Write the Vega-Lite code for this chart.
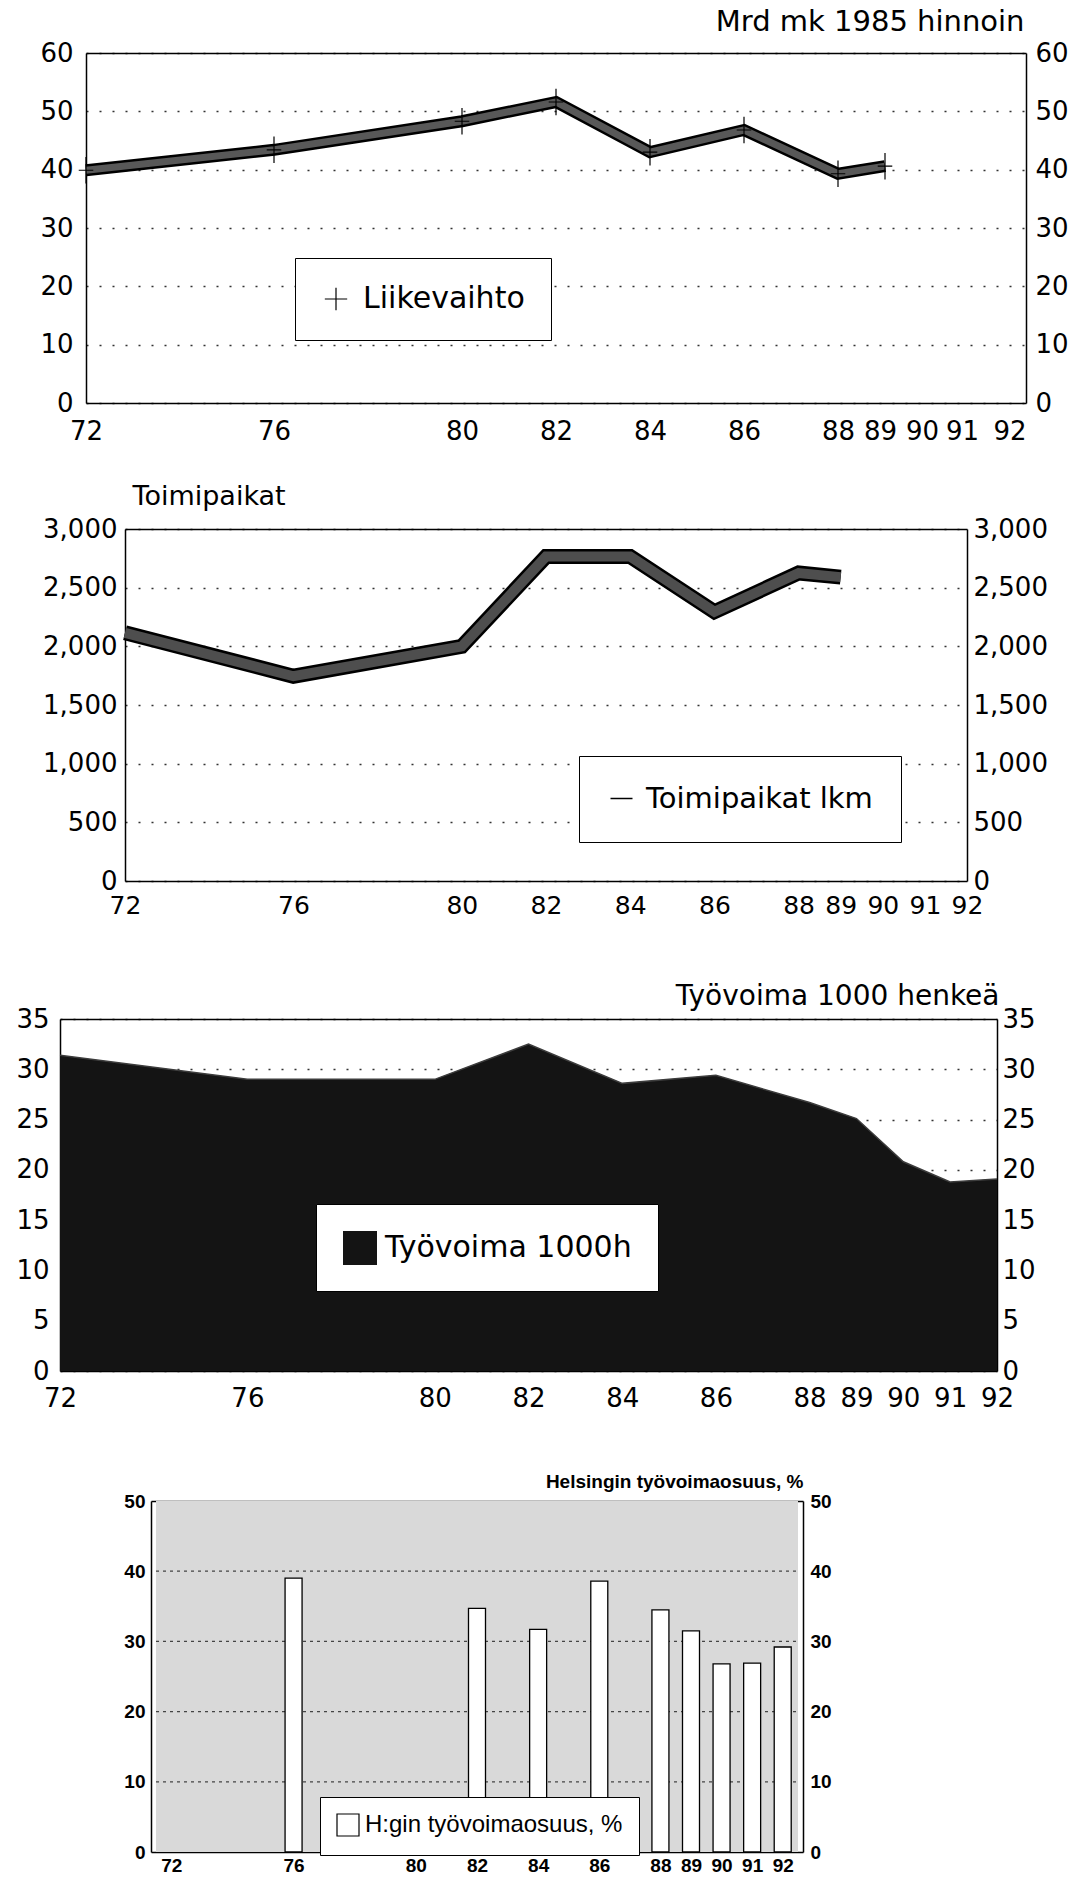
{
  "$schema": "https://vega.github.io/schema/vega-lite/v6.json",
  "padding": 0,
  "spacing": 0,
  "background": "#ffffff",
  "config": {
    "view": {"stroke": null},
    "font": "DejaVu Sans",
    "axis": {
      "labelColor": "#000",
      "domainColor": "#000",
      "domainWidth": 1.5,
      "ticks": false,
      "grid": false,
      "labelOverlap": false,
      "labelFlush": false,
      "labelFont": "DejaVu Sans",
      "labelFontSize": 26,
      "titleFont": "DejaVu Sans",
      "titleFontWeight": "normal",
      "titleColor": "#000",
      "gridColor": "#333",
      "gridWidth": 1.5
    },
    "legend": {"titleColor": "#000", "labelColor": "#000"}
  },
  "resolve": {"scale": {"color": "independent"}, "legend": {"color": "independent"}},
  "datasets": {
    "liike": [
      {"year": 72, "value": 39.9},
      {"year": 76, "value": 43.4},
      {"year": 80, "value": 48.3},
      {"year": 82, "value": 51.6},
      {"year": 84, "value": 43.0},
      {"year": 86, "value": 46.8},
      {"year": 88, "value": 39.3},
      {"year": 89, "value": 40.6}
    ],
    "toimi": [
      {"year": 72, "value": 2115},
      {"year": 76, "value": 1745},
      {"year": 80, "value": 2000},
      {"year": 82, "value": 2765},
      {"year": 84, "value": 2765},
      {"year": 86, "value": 2295},
      {"year": 88, "value": 2625},
      {"year": 89, "value": 2590}
    ],
    "tyovoima": [
      {"year": 72, "value": 31.4},
      {"year": 76, "value": 29.0},
      {"year": 80, "value": 29.0},
      {"year": 82, "value": 32.5},
      {"year": 84, "value": 28.6},
      {"year": 86, "value": 29.4},
      {"year": 88, "value": 26.7},
      {"year": 89, "value": 25.1},
      {"year": 90, "value": 20.8},
      {"year": 91, "value": 18.8},
      {"year": 92, "value": 19.1}
    ],
    "osuus": [
      {"year": 76, "value": 39.0},
      {"year": 82, "value": 34.7},
      {"year": 84, "value": 31.7},
      {"year": 86, "value": 38.6},
      {"year": 88, "value": 34.5},
      {"year": 89, "value": 31.5},
      {"year": 90, "value": 26.8},
      {"year": 91, "value": 26.9},
      {"year": 92, "value": 29.2}
    ],
    "grid4": [{"g": 10}, {"g": 20}, {"g": 30}, {"g": 40}]
  },
  "vconcat": [
    {
      "width": 1026,
      "height": 470,
      "data": {"name": "liike"},
      "layer": [
        {
          "mark": {"type": "line", "color": "#000", "strokeWidth": 12, "strokeJoin": "miter", "strokeCap": "butt"},
          "encoding": {
            "x": {"field": "year", "type": "quantitative",
              "scale": {"domain": [72, 92], "range": [86, 1026], "nice": false, "zero": false},
              "axis": {"orient": "bottom", "offset": -67, "title": null, "values": [72, 76, 80, 82, 84, 86, 88, 89, 90, 91, 92], "format": "d", "labelPadding": 15,
                "labelAlign": {"condition": {"test": "datum.value == 92", "value": "right"}, "value": "center"},
                "labelOffset": {"condition": [{"test": "datum.value == 89", "value": -5}, {"test": "datum.value == 90", "value": -10}, {"test": "datum.value == 91", "value": -17}], "value": 0}}},
            "y": {"field": "value", "type": "quantitative",
              "scale": {"domain": [0, 60], "range": [403, 53], "nice": false, "zero": false},
              "axis": {"orient": "left", "offset": -86, "title": null, "values": [0, 10, 20, 30, 40, 50, 60], "labelPadding": 13, "grid": true, "gridDash": [2, 11]}}
          }
        },
        {
          "mark": {"type": "line", "color": "#585858", "strokeWidth": 7, "strokeJoin": "miter", "strokeCap": "butt"},
          "encoding": {
            "x": {"field": "year", "type": "quantitative",
              "axis": {"orient": "top", "offset": -53, "labels": false, "title": "Mrd mk 1985 hinnoin", "titleFontSize": 29, "titleX": 1024, "titleY": -23, "titleAlign": "right", "titleBaseline": "alphabetic", "titleAngle": 0}},
            "y": {"field": "value", "type": "quantitative",
              "axis": {"orient": "right", "offset": 0, "title": null, "values": [0, 10, 20, 30, 40, 50, 60], "labelPadding": 9}}
          }
        },
        {
          "mark": {"type": "point", "shape": "M0,-1V1M-0.55,0H0.55", "size": 700, "strokeWidth": 1.2, "filled": false, "opacity": 1},
          "encoding": {
            "x": {"field": "year", "type": "quantitative", "axis": null},
            "y": {"field": "value", "type": "quantitative", "axis": null},
            "color": {"datum": "Liikevaihto", "scale": {"range": ["#000"]},
              "legend": {"orient": "none", "legendX": 295, "legendY": 258, "title": null, "padding": 26, "strokeColor": "#000", "fillColor": "#fff", "labelFont": "DejaVu Sans", "labelFontSize": 30, "labelOffset": 12, "labelLimit": 0, "symbolType": "M0,-1V1M-1,0H1", "symbolSize": 500, "symbolStrokeWidth": 1.2, "symbolStrokeColor": "#000"}}
          }
        }
      ],
      "resolve": {"axis": {"x": "independent", "y": "independent"}}
    },
    {
      "width": 967,
      "height": 490,
      "data": {"name": "toimi"},
      "layer": [
        {
          "mark": {"type": "line", "strokeJoin": "miter", "strokeCap": "butt"},
          "encoding": {
            "x": {"field": "year", "type": "quantitative",
              "scale": {"domain": [72, 92], "range": [125, 967], "nice": false, "zero": false},
              "axis": {"orient": "bottom", "offset": -79, "title": null, "values": [72, 76, 80, 82, 84, 86, 88, 89, 90, 91, 92], "format": "d", "labelPadding": 12, "labelFontSize": 25}},
            "y": {"field": "value", "type": "quantitative",
              "scale": {"domain": [0, 3000], "range": [411, 59], "nice": false, "zero": false},
              "axis": {"orient": "left", "offset": -125, "title": null, "values": [0, 500, 1000, 1500, 2000, 2500, 3000], "format": ",d", "labelPadding": 8, "grid": true, "gridDash": [2, 11]}},
            "strokeWidth": {"value": 15},
            "color": {"datum": "Toimipaikat lkm", "scale": {"range": ["#000"]},
              "legend": {"orient": "none", "legendX": 579, "legendY": 286, "title": null, "padding": 28, "strokeColor": "#000", "fillColor": "#fff", "labelFont": "DejaVu Sans", "labelFontSize": 29, "labelOffset": 10, "labelLimit": 0, "symbolType": "stroke", "symbolSize": 484, "symbolStrokeWidth": 1.5, "symbolStrokeColor": "#000"}}
          }
        },
        {
          "mark": {"type": "line", "color": "#4e4e4e", "strokeWidth": 10, "strokeJoin": "miter", "strokeCap": "butt"},
          "encoding": {
            "x": {"field": "year", "type": "quantitative",
              "axis": {"orient": "top", "offset": -59, "labels": false, "title": "Toimipaikat", "titleFontSize": 27, "titleX": 132, "titleY": -25, "titleAlign": "left", "titleBaseline": "alphabetic", "titleAngle": 0}},
            "y": {"field": "value", "type": "quantitative",
              "axis": {"orient": "right", "offset": 0, "title": null, "values": [0, 500, 1000, 1500, 2000, 2500, 3000], "format": ",d", "labelPadding": 6}}
          }
        }
      ],
      "resolve": {"axis": {"x": "independent", "y": "independent"}}
    },
    {
      "width": 997,
      "height": 480,
      "data": {"name": "tyovoima"},
      "layer": [
        {
          "mark": {"type": "area"},
          "encoding": {
            "x": {"field": "year", "type": "quantitative",
              "scale": {"domain": [72, 92], "range": [60, 997], "nice": false, "zero": false},
              "axis": {"orient": "bottom", "offset": -69, "title": null, "values": [72, 76, 80, 82, 84, 86, 88, 89, 90, 91, 92], "format": "d", "labelPadding": 14}},
            "y": {"field": "value", "type": "quantitative",
              "scale": {"domain": [0, 35], "range": [411, 59], "nice": false, "zero": true},
              "axis": {"orient": "left", "offset": -60, "title": null, "values": [0, 5, 10, 15, 20, 25, 30, 35], "labelPadding": 11, "grid": true, "gridDash": [2, 11]}},
            "color": {"datum": "Työvoima 1000h", "scale": {"range": ["#141414"]},
              "legend": {"orient": "none", "legendX": 316, "legendY": 244, "title": null, "padding": 26, "strokeColor": "#000", "fillColor": "#fff", "labelFont": "DejaVu Sans", "labelFontSize": 30, "labelOffset": 7, "labelLimit": 0, "symbolType": "square", "symbolSize": 1156}}
          }
        },
        {
          "mark": {"type": "line", "color": "#3c3c3c", "strokeWidth": 1.5},
          "encoding": {
            "x": {"field": "year", "type": "quantitative",
              "axis": {"orient": "top", "offset": -59, "labels": false, "title": "Työvoima 1000 henkeä", "titleFontSize": 28, "titleX": 999, "titleY": -15, "titleAlign": "right", "titleBaseline": "alphabetic", "titleAngle": 0}},
            "y": {"field": "value", "type": "quantitative",
              "axis": {"orient": "right", "offset": 0, "title": null, "values": [0, 5, 10, 15, 20, 25, 30, 35], "labelPadding": 5}}
          }
        }
      ],
      "resolve": {"axis": {"x": "independent", "y": "independent"}}
    },
    {
      "width": 803,
      "height": 446,
      "data": {"name": "osuus"},
      "layer": [
        {
          "mark": {"type": "rect", "color": "#d9d9d9"},
          "encoding": {
            "x": {"datum": 71.5, "type": "quantitative",
              "scale": {"domain": [71.5, 92.5], "range": [151, 803], "nice": false, "zero": false},
              "axis": {"orient": "bottom", "offset": -34, "title": null, "values": [72, 76, 80, 82, 84, 86, 88, 89, 90, 91, 92], "format": "d", "labelPadding": 4, "labelFont": "Liberation Sans", "labelFontWeight": "bold", "labelFontSize": 19}},
            "x2": {"datum": 92.5},
            "y": {"datum": 0, "type": "quantitative",
              "scale": {"domain": [0, 50], "range": [412, 61], "nice": false, "zero": true},
              "axis": {"orient": "left", "offset": -151, "title": null, "values": [0, 10, 20, 30, 40, 50], "labelPadding": 6, "labelFont": "Liberation Sans", "labelFontWeight": "bold", "labelFontSize": 19}},
            "y2": {"datum": 50}
          }
        },
        {
          "data": {"name": "grid4"},
          "mark": {"type": "rule", "color": "#444", "strokeDash": [3, 4], "strokeWidth": 1.3},
          "encoding": {
            "x": {"datum": 71.5, "type": "quantitative", "axis": null},
            "x2": {"datum": 92.5},
            "y": {"field": "g", "type": "quantitative", "axis": null}
          }
        },
        {
          "mark": {"type": "bar", "orient": "vertical", "width": 17, "stroke": "#000", "strokeWidth": 1.3},
          "encoding": {
            "x": {"field": "year", "type": "quantitative",
              "axis": {"orient": "top", "offset": -61, "labels": false, "title": "Helsingin työvoimaosuus, %", "titleFont": "Liberation Sans", "titleFontWeight": "bold", "titleFontSize": 19, "titleX": 803, "titleY": -14, "titleAlign": "right", "titleBaseline": "alphabetic", "titleAngle": 0}},
            "y": {"field": "value", "type": "quantitative",
              "axis": {"orient": "right", "offset": 0, "title": null, "values": [0, 10, 20, 30, 40, 50], "labelPadding": 7, "labelFont": "Liberation Sans", "labelFontWeight": "bold", "labelFontSize": 19}},
            "color": {"datum": "H:gin työvoimaosuus, %", "scale": {"range": ["#ffffff"]},
              "legend": {"orient": "none", "legendX": 320, "legendY": 357, "title": null, "padding": 16, "strokeColor": "#000", "fillColor": "#fff", "labelFont": "Liberation Sans", "labelFontSize": 24, "labelOffset": 5, "labelLimit": 0, "symbolType": "square", "symbolSize": 484, "symbolStrokeColor": "#000", "symbolStrokeWidth": 1.2, "symbolFillColor": "#fff"}}
          }
        }
      ],
      "resolve": {"axis": {"x": "independent", "y": "independent"}}
    }
  ]
}
